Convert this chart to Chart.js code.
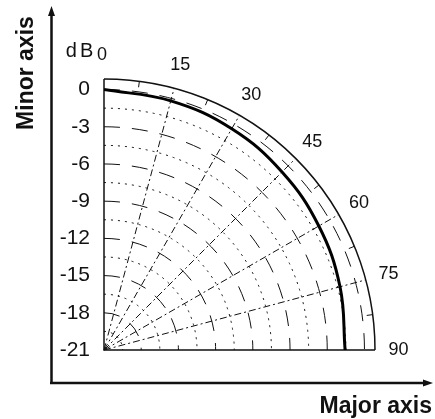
<!DOCTYPE html>
<html>
<head>
<meta charset="utf-8">
<script src="https://cdn.jsdelivr.net/npm/chart.js@4/dist/chart.umd.min.js"></script>
<style>
  html, body { margin: 0; padding: 0; background: #fff; }
</style>
</head>
<body>
<canvas id="chartPolar" width="435" height="419"></canvas>
<script>
// beam level vs angle
const angles = [0, 15, 30, 45, 60, 75, 90]
const levelDb = [0, -0.2, -0.4, -0.7, -1.0, -1.3, -1.56]

const dbTicks = [0, -3, -6, -9, -12, -15, -18, -21]
const angleTicks = [0, 15, 30, 45, 60, 75, 90]
const dbFloor = -21
const dbTop = 0.85

const FONT = '"Liberation Sans", Arial, sans-serif'

function toXY(deg, db) {
  const r = db - dbFloor
  const t = deg * Math.PI / 180
  return {x: r * Math.sin(t), y: r * Math.cos(t)}
}

const points = []
for (var i = 0; i < angles.length; i++) {
  points.push(toXY(angles[i], levelDb[i]))
}

const polarGrid = {
  id: 'polarGrid',
  beforeDatasetsDraw(chart) {
    const ctx = chart.ctx
    const xs = chart.scales.x
    const ys = chart.scales.y
    const cx = xs.getPixelForValue(0)
    const cy = ys.getPixelForValue(0)
    const rad = v => xs.getPixelForValue(v) - cx
    const rMax = rad(dbTop - dbFloor)

    ctx.save()
    ctx.strokeStyle = '#111'
    ctx.lineWidth = 1

    // rings every 1.5 dB: dashed on the labelled ones, dotted between
    for (var d = dbFloor + 1.5; d <= 0.001; d += 1.5) {
      const major = Math.abs(Math.round(d) - d) < 0.01 && Math.round(d) % 3 === 0
      ctx.setLineDash(major ? [16, 12] : [2, 5])
      ctx.beginPath()
      ctx.arc(cx, cy, rad(d - dbFloor), -Math.PI / 2, 0)
      ctx.stroke()
    }

    // spokes
    ctx.setLineDash([7, 3, 2, 3])
    angleTicks.forEach(a => {
      if (a === 0 || a === 90) return
      const t = a * Math.PI / 180
      ctx.beginPath()
      ctx.moveTo(cx, cy)
      ctx.lineTo(cx + rMax * Math.sin(t), cy - rMax * Math.cos(t))
      ctx.stroke()
    })

    // frame of the quadrant
    ctx.setLineDash([])
    ctx.lineWidth = 1.5
    ctx.beginPath()
    ctx.moveTo(cx, cy - rMax)
    ctx.lineTo(cx, cy)
    ctx.lineTo(cx + rMax, cy)
    ctx.stroke()
    ctx.beginPath()
    ctx.arc(cx, cy, rMax, -Math.PI / 2, 0)
    ctx.stroke()

    // small ticks half way between spokes
    ctx.lineWidth = 1
    for (var m = 7.5; m < 90; m += 15) {
      const t = m * Math.PI / 180
      ctx.beginPath()
      ctx.moveTo(cx + rMax * Math.sin(t), cy - rMax * Math.cos(t))
      ctx.lineTo(cx + (rMax - 6) * Math.sin(t), cy - (rMax - 6) * Math.cos(t))
      ctx.stroke()
    }
    ctx.restore()
  },
  afterDraw(chart) {
    const ctx = chart.ctx
    const xs = chart.scales.x
    const ys = chart.scales.y
    const cx = xs.getPixelForValue(0)
    const cy = ys.getPixelForValue(0)
    const rLab = xs.getPixelForValue(dbTop - dbFloor + 1.9) - cx

    ctx.save()
    ctx.fillStyle = '#111'
    ctx.textAlign = 'center'
    ctx.textBaseline = 'middle'
    ctx.font = '18px ' + FONT
    angleTicks.forEach(a => {
      const t = a * Math.PI / 180
      const x = cx + rLab * Math.sin(t)
      ctx.fillText(String(a), a === 0 ? x - 2 : x, cy - rLab * Math.cos(t))
    })

    ctx.font = '20px ' + FONT
    ctx.letterSpacing = '3px'
    ctx.fillText('dB', 81, 51)
    ctx.letterSpacing = '0px'

    // outer axes with arrows
    ctx.strokeStyle = '#111'
    ctx.lineWidth = 2.5
    ctx.beginPath()
    ctx.moveTo(51.5, 383)
    ctx.lineTo(51.5, 14)
    ctx.moveTo(50, 383)
    ctx.lineTo(426, 383)
    ctx.stroke()
    ctx.beginPath()
    ctx.moveTo(51.5, 6)
    ctx.lineTo(48, 16)
    ctx.lineTo(55, 16)
    ctx.closePath()
    ctx.moveTo(433, 383)
    ctx.lineTo(423, 379.5)
    ctx.lineTo(423, 386.5)
    ctx.closePath()
    ctx.fill()

    ctx.font = 'bold 23px ' + FONT
    ctx.textAlign = 'right'
    ctx.textBaseline = 'alphabetic'
    ctx.fillText('Major axis', 432, 413)

    ctx.translate(33, 73)
    ctx.rotate(-Math.PI / 2)
    ctx.textAlign = 'center'
    ctx.fillText('Minor axis', 0, 0)
    ctx.restore()
  }
}

new Chart(document.getElementById('chartPolar'), {
  type: 'scatter',
  data: {
    datasets: [{
      data: points,
      showLine: true,
      borderColor: '#000',
      borderWidth: 3,
      pointRadius: 0,
      tension: 0.4,
      fill: false
    }]
  },
  options: {
    responsive: false,
    animation: false,
    layout: {
      padding: {left: 0, right: 60, top: 79, bottom: 69}
    },
    plugins: {
      legend: {display: false},
      tooltip: {enabled: false}
    },
    scales: {
      x: {
        display: false,
        min: 0,
        max: dbTop - dbFloor
      },
      y: {
        position: 'left',
        min: 0,
        max: dbTop - dbFloor,
        grid: {display: false, drawTicks: false},
        border: {display: false},
        afterFit(scale) { scale.width = 104 },
        afterBuildTicks(scale) {
          scale.ticks = dbTicks.map(d => ({value: d - dbFloor}))
        },
        ticks: {
          padding: 14,
          color: '#111',
          font: {family: FONT, size: 21},
          callback: v => String(Math.round(v + dbFloor))
        }
      }
    }
  },
  plugins: [polarGrid]
});
</script>
</body>
</html>
